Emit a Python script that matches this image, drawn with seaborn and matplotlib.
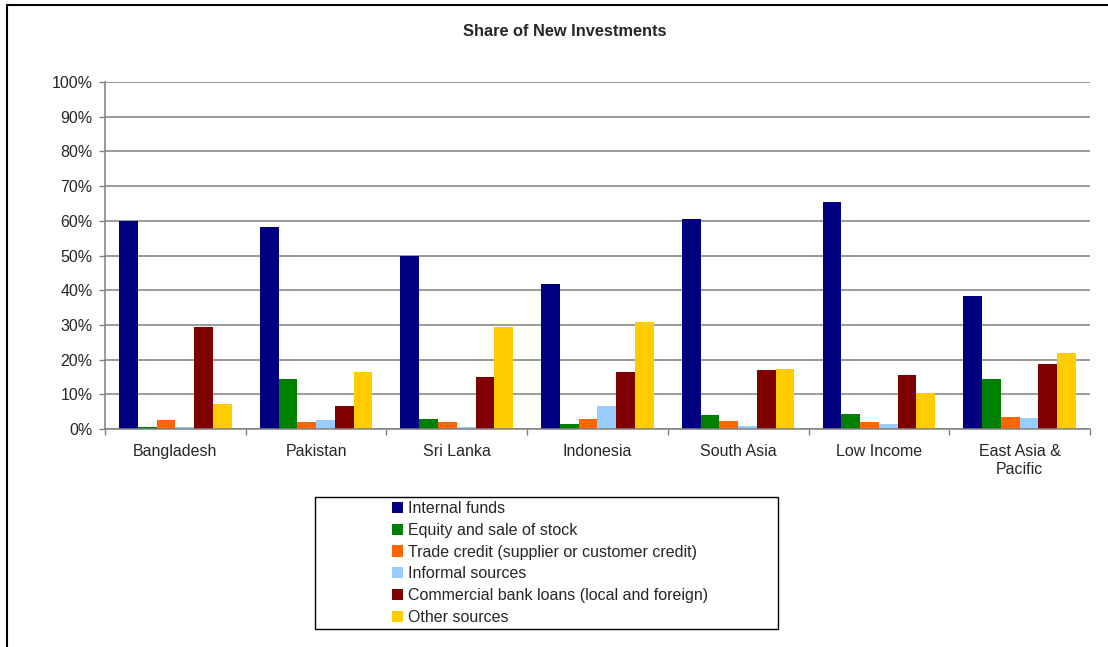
import pandas as pd
import matplotlib.pyplot as plt
import seaborn as sns
from matplotlib.lines import Line2D
from matplotlib.patches import Rectangle, Patch
from matplotlib.ticker import PercentFormatter, FixedLocator

regions = ["Bangladesh", "Pakistan", "Sri Lanka", "Indonesia",
           "South Asia", "Low Income", "East Asia &\nPacific"]

sources = ["Internal funds",
           "Equity and sale of stock",
           "Trade credit (supplier or customer credit)",
           "Informal sources",
           "Commercial bank loans (local and foreign)",
           "Other sources"]

internal_funds = [60.0, 58.3, 49.8, 41.8, 60.5, 65.4, 38.3]
equity_stock = [0.5, 14.5, 3.0, 1.3, 4.1, 4.4, 14.5]
trade_credit = [2.5, 1.9, 1.9, 3.0, 2.2, 1.9, 3.6]
informal = [0.5, 2.5, 0.5, 6.7, 0.8, 1.5, 3.3]
bank_loans = [29.5, 6.5, 15.1, 16.3, 17.1, 15.7, 18.6]
other_sources = [7.1, 16.3, 29.5, 30.9, 17.3, 10.5, 22.0]

colors = ["#000080", "#008000", "#FF6600", "#99CCFF", "#800000", "#FFCC00"]


def main():
    series = [internal_funds, equity_stock, trade_credit, informal, bank_loans, other_sources]
    rows = []
    for name, values in zip(sources, series):
        for region, v in zip(regions, values):
            rows.append({"Region": region, "Source": name, "Share": v})
    df = pd.DataFrame(rows)

    sns.set_style("white")
    plt.rcParams["font.family"] = ["Liberation Sans", "DejaVu Sans"]

    fig = plt.figure(figsize=(11.08, 6.47), dpi=100)
    ax = fig.add_axes([105 / 1108, 1 - 429 / 647, (1090 - 105) / 1108, (429 - 82) / 647])

    sns.barplot(data=df, x="Region", y="Share", hue="Source", order=regions,
                hue_order=sources, palette=colors, width=0.8, saturation=1,
                linewidth=0, ax=ax, legend=False)

    ax.set_xlim(-0.5, len(regions) - 0.5)
    ax.set_ylim(0, 100)
    ax.yaxis.set_major_locator(FixedLocator(range(0, 101, 10)))
    ax.yaxis.set_major_formatter(PercentFormatter(decimals=0))
    ax.grid(axis="y", color="#808080", linewidth=1.1)
    ax.set_axisbelow(True)
    ax.set_xlabel("")
    ax.set_ylabel("")

    for side in ["top", "right"]:
        ax.spines[side].set_visible(False)
    for side in ["left", "bottom"]:
        ax.spines[side].set_color("#808080")
        ax.spines[side].set_linewidth(1.1)

    ax.xaxis.set_minor_locator(FixedLocator([i - 0.5 for i in range(len(regions) + 1)]))
    ax.tick_params(axis="x", which="major", length=0, pad=11, labelsize=11.5)
    ax.tick_params(axis="x", which="minor", bottom=True, length=4, color="#808080", width=1)
    ax.tick_params(axis="y", left=True, length=4, color="#808080", width=1, pad=5, labelsize=11.5)
    for lbl in ax.get_xticklabels():
        lbl.set_linespacing(1.25)

    fig.text(565 / 1108, 1 - 31 / 647, "Share of New Investments", ha="center", va="center",
             fontsize=11.8, fontweight="bold")

    # legend box with entries pushed to the right
    fig.add_artist(Rectangle((315 / 1108, 1 - 629 / 647), 463 / 1108, 132 / 647,
                             transform=fig.transFigure, fill=False, edgecolor="black", linewidth=1))
    handles = [Patch(facecolor=c, edgecolor="none") for c in colors]
    fig.legend(handles, sources, loc="upper left", bbox_to_anchor=(389 / 1108, 1 - 498 / 647),
               frameon=False, fontsize=11.5, handlelength=0.7, handleheight=0.7,
               handletextpad=0.3, labelspacing=0.42, borderaxespad=0, borderpad=0.2)

    # outer chart frame (cut at right and bottom)
    fig.add_artist(Line2D([7 / 1108, 7 / 1108], [0, 1 - 5 / 647], transform=fig.transFigure,
                          color="black", linewidth=1.5))
    fig.add_artist(Line2D([7 / 1108, 1], [1 - 5 / 647, 1 - 5 / 647], transform=fig.transFigure,
                          color="black", linewidth=1.5))

    fig.savefig("out.png", dpi=100)


if __name__ == "__main__":
    main()
